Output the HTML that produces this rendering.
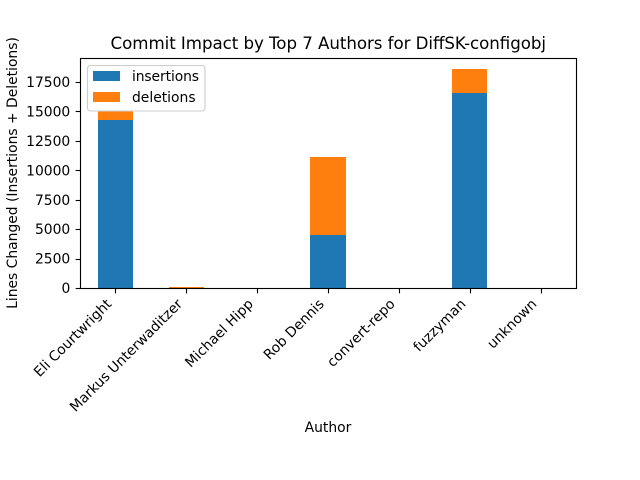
<!DOCTYPE html>
<html>
<head>
<meta charset="utf-8">
<title>Commit Impact by Top 7 Authors for DiffSK-configobj</title>
<style>
html,body{margin:0;padding:0;background:#fff;}
svg{display:block;}
text{font-family:"DejaVu Sans",sans-serif;fill:#000;}
</style>
</head>
<body>
<svg id="chart" xmlns="http://www.w3.org/2000/svg" width="640" height="480" viewBox="0 0 640 480">
  <rect x="0" y="0" width="640" height="480" fill="#fff"/>
  <g id="bars"></g>
  <g id="xticks"></g>
  <g id="yticks"></g>
  <rect x="80.5" y="58.5" width="496" height="230" fill="none" stroke="#000" stroke-width="1.11"/>
  <text x="328.3" y="49" font-size="16.67" text-anchor="middle" textLength="435.5" lengthAdjust="spacing">Commit Impact by Top 7 Authors for DiffSK-configobj</text>
  <text x="328" y="432" font-size="13.89" text-anchor="middle">Author</text>
  <text transform="translate(17,173) rotate(-90)" font-size="13.89" text-anchor="middle">Lines Changed (Insertions + Deletions)</text>
  <g>
    <rect x="87.5" y="65.5" width="117.5" height="45.5" rx="3" ry="3" fill="#fff" fill-opacity="0.8" stroke="#ccc" stroke-width="1.11"/>
    <rect x="93" y="71" width="27" height="10" fill="#1f77b4"/>
    <text x="132" y="81" font-size="13.89" textLength="67" lengthAdjust="spacing">insertions</text>
    <rect x="93" y="92" width="27" height="10" fill="#ff7f0e"/>
    <text x="132" y="102" font-size="13.89">deletions</text>
  </g>
</svg>
<script>
const authors = ["Eli Courtwright", "Markus Unterwaditzer", "Michael Hipp", "Rob Dennis", "convert-repo", "fuzzyman", "unknown"];
const insertions = [14270, 20, 5, 4500, 2, 16570, 3];
const deletions = [780, 100, 3, 6630, 1, 2040, 2];
const yTicks = [0, 2500, 5000, 7500, 10000, 12500, 15000, 17500];
const yDomainMax = 19540;

const NS = "http://www.w3.org/2000/svg";
const plotLeft = 80, plotRight = 576, plotTop = 58, plotBottom = 288;
const barWidthFraction = 0.5;

function xScale(i) {
  return plotLeft + (i + 0.5) * (plotRight - plotLeft) / authors.length;
}
function yScale(v) {
  return plotBottom - v * (plotBottom - plotTop) / yDomainMax;
}
function make(tag, attrs, parent) {
  const el = document.createElementNS(NS, tag);
  for (const k in attrs) el.setAttribute(k, attrs[k]);
  parent.appendChild(el);
  return el;
}

const barsG = document.getElementById("bars");
const xG = document.getElementById("xticks");
const yG = document.getElementById("yticks");
const bandWidth = (plotRight - plotLeft) / authors.length * barWidthFraction;

authors.forEach(function (name, i) {
  const cx = xScale(i);
  const y0 = Math.round(yScale(insertions[i]));
  const y1 = Math.round(yScale(insertions[i] + deletions[i]));
  const left = Math.round(cx - bandWidth / 2);
  const right = Math.round(cx + bandWidth / 2);
  const w = right - left;

  const ins = make("rect", {x: left, y: y0, width: w, height: Math.max(0, plotBottom - y0), fill: "#1f77b4", "shape-rendering": "crispEdges"}, barsG);
  
  

  const del = make("rect", {x: left, y: y1, width: w, height: Math.max(0, y0 - y1), fill: "#ff7f0e", "shape-rendering": "crispEdges"}, barsG);
  
  

  const tickX = Math.round(cx) + 0.5;
  const tick = make("line", {x1: tickX, x2: tickX, y1: plotBottom, y2: plotBottom + 5.36, stroke: "#000", "stroke-width": 1.11}, xG);
  
  

  const tx = cx - 3.1, ty = 304.8;
  const label = make("text", {transform: "translate(" + tx + "," + ty + ") rotate(-45)", "font-size": 13.89, "text-anchor": "end"}, xG);
  label.textContent = name;
  
  
});

yTicks.forEach(function (v) {
  const y = yScale(v);
  const tickY = Math.round(y) + 0.5;
  const tick = make("line", {x1: plotLeft - 4.36, x2: plotLeft, y1: tickY, y2: tickY, stroke: "#000", "stroke-width": 1.11}, yG);
  
  

  const label = make("text", {x: plotLeft - 9.72, y: y + 5.05, "font-size": 13.89, "text-anchor": "end"}, yG);
  label.textContent = String(v);
  
  
});
</script>
</body>
</html>
